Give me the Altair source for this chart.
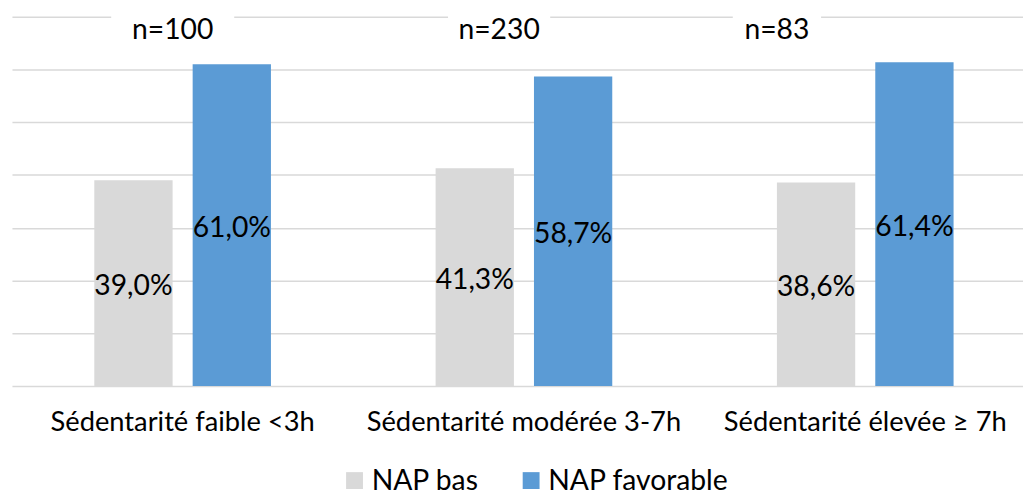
import altair as alt
import pandas as pd

groups = ["Sédentarité faible <3h", "Sédentarité modérée 3-7h", "Sédentarité élevée ≥ 7h"]
series = ["NAP bas", "NAP favorable"]
nap_bas = [39.0, 41.3, 38.6]
nap_fav = [61.0, 58.7, 61.4]
n_labels = ["n=100", "n=230", "n=83"]
n_shift = [-10, -25, -89]
box_width = [124, 103, 89]
colors = ["#D9D9D9", "#5B9BD5"]

FONT = "Lato"
FS = 28.5
AXFS = 27.5

rows = []
for g, b, f in zip(groups, nap_bas, nap_fav):
    rows.append({"groupe": g, "serie": series[0], "valeur": b})
    rows.append({"groupe": g, "serie": series[1], "valeur": f})
df = pd.DataFrame(rows)
df["label"] = df["valeur"].map(lambda v: f"{v:.1f}%".replace(".", ","))
df["mid"] = df["valeur"] / 2

ann = pd.DataFrame({"groupe": groups, "n": n_labels, "ny": [67.55] * 3,
                    "b0": [62.0] * 3, "b1": [71.4] * 3})

xscale = alt.Scale(domain=groups, paddingInner=0, paddingOuter=0)
xaxis = alt.Axis(title=None, labelAngle=0, ticks=False, domain=False,
                 labelFontSize=AXFS, labelFont=FONT, labelColor="black",
                 labelPadding=23, grid=False, labelLimit=0)


def X():
    return alt.X("groupe:N", sort=groups, scale=xscale, axis=xaxis)


xoff_scale = alt.Scale(domain=series, paddingInner=0.204, paddingOuter=0.837)
yenc = alt.Y("valeur:Q", scale=alt.Scale(domain=[0, 70]),
             axis=alt.Axis(title=None, labels=False, ticks=False, domain=False,
                           values=[0, 10, 20, 30, 40, 50, 60, 70],
                           gridColor="#D9D9D9", gridWidth=1.5))

bars = alt.Chart(df).mark_bar().encode(
    x=X(), xOffset=alt.XOffset("serie:N", sort=series, scale=xoff_scale), y=yenc,
    color=alt.Color("serie:N", sort=series,
                    scale=alt.Scale(domain=series, range=colors),
                    legend=alt.Legend(title=None, orient="none", direction="horizontal",
                                      legendX=331, legendY=453, padding=0,
                                      labelFont=FONT, labelFontSize=FS, labelColor="black",
                                      symbolType="square", symbolSize=289,
                                      symbolStrokeWidth=0, labelOffset=3,
                                      columnPadding=38, labelLimit=0)),
)

pct = alt.Chart(df).mark_text(font=FONT, fontSize=FS, baseline="middle", dy=3,
                              color="black").encode(
    x=X(), xOffset=alt.XOffset("serie:N", sort=series, scale=xoff_scale),
    y=alt.Y("mid:Q"), text="label:N")

layers = [bars, pct]
for i, g in enumerate(groups):
    sub = ann[ann["groupe"] == g]
    box = alt.Chart(sub).mark_bar(color="white", width=box_width[i],
                                  xOffset=n_shift[i]).encode(
        x=X(), y=alt.Y("b0:Q"), y2="b1:Q")
    txt = alt.Chart(sub).mark_text(font=FONT, fontSize=FS, baseline="middle",
                                   dx=n_shift[i], color="black").encode(
        x=X(), y=alt.Y("ny:Q"), text="n:N")
    layers += [box, txt]

chart = alt.layer(*layers).properties(
    width=1032, height=372,
    autosize=alt.AutoSizeParams(type="none"),
    padding={"left": 4, "top": 7, "right": -13, "bottom": 110},
).configure_view(stroke=None)

chart.save("out.html", embed_options={"renderer": "svg", "actions": False})
